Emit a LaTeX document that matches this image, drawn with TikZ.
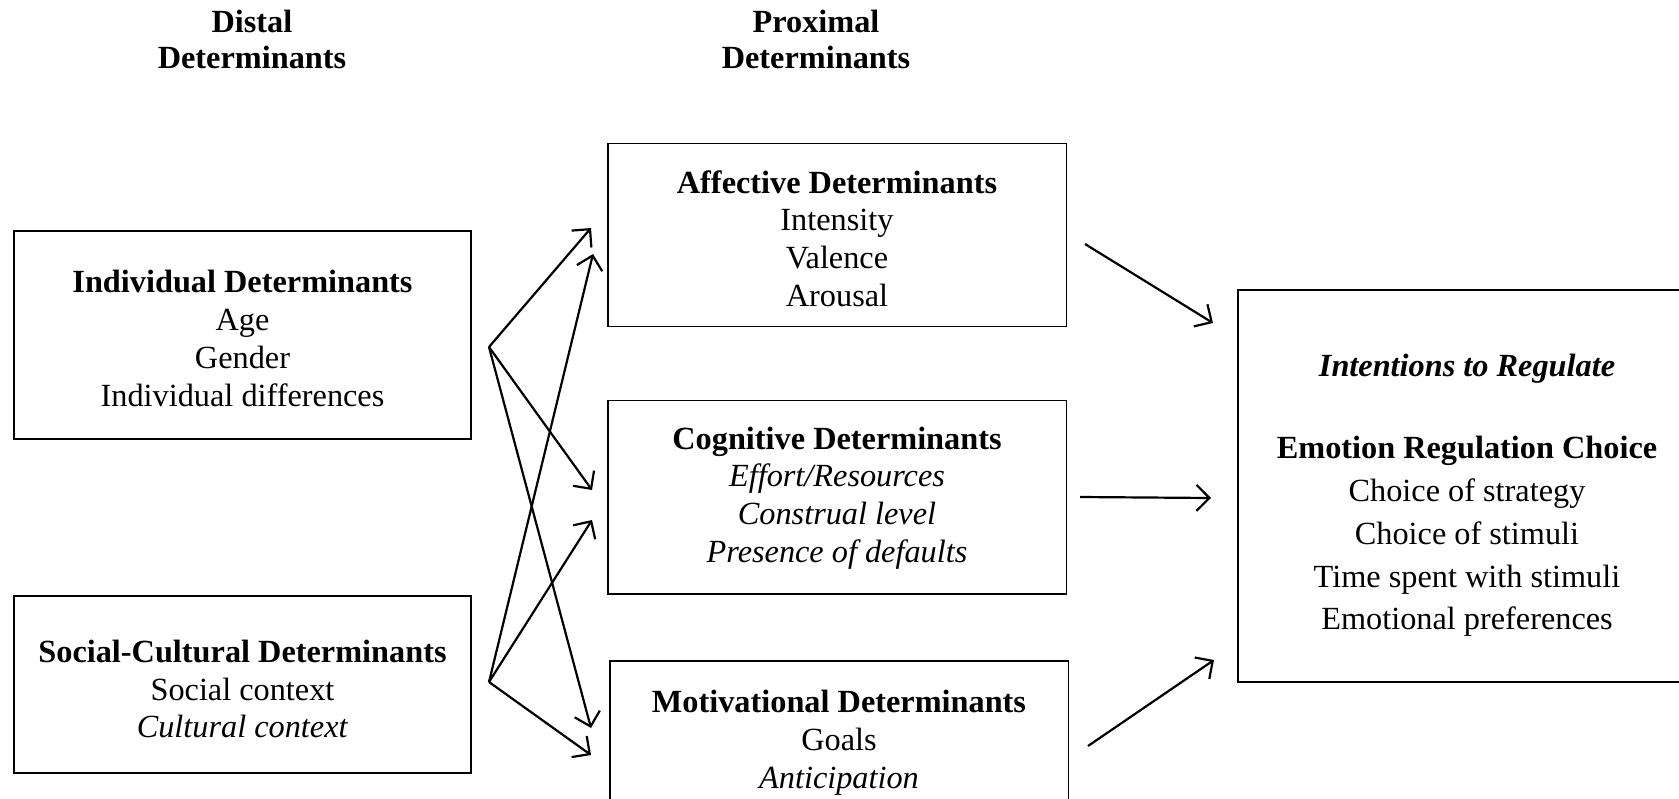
\documentclass[tikz,border=0pt]{standalone}
\usepackage{fontspec}
\setmainfont{Liberation Serif}
\usetikzlibrary{arrows.meta}
\begin{document}
\begin{tikzpicture}[x=1pt,y=-1pt,
  box/.style={draw, line width=1.5pt, inner sep=0pt},
  txt/.style={align=center, inner sep=0pt, font=\fontsize{32.3}{37.8}\selectfont},
  bigtxt/.style={txt, font=\fontsize{32.3}{42.8}\selectfont},
  head/.style={align=center, inner sep=0pt, font=\fontsize{32.3}{36}\selectfont\bfseries},
  conn/.style={line width=2.2pt, -{Straight Barb[length=13pt,width=26pt,line width=2.2pt]}}]
\useasboundingbox (0,0) rectangle (1679,798);

% headers
\node[head] (hdist) at (252,39) {Distal\\Determinants};
\node[head] (hprox) at (816,39) {Proximal\\Determinants};

% distal boxes
\node[box, minimum width=457pt, minimum height=208pt] (ind) at (242.5,335) {};
\node[txt] (indT) at (242.5,338.5)
  {\textbf{Individual Determinants}\\Age\\Gender\\Individual differences};
\node[box, minimum width=457pt, minimum height=177pt] (soc) at (242.5,684.5) {};
\node[txt] (socT) at (242.5,689)
  {\textbf{Social-Cultural Determinants}\\Social context\\\textit{Cultural context}};

% proximal boxes
\node[box, minimum width=458.5pt, minimum height=183pt] (aff) at (837,235) {};
\node[txt] (affT) at (837,238.5)
  {\textbf{Affective Determinants}\\Intensity\\Valence\\Arousal};
\node[box, minimum width=458.5pt, minimum height=193.5pt] (cog) at (837,497) {};
\node[txt] (cogT) at (837,498)
  {\textbf{Cognitive Determinants}\\\textit{Effort/Resources}\\\textit{Construal level}\\\textit{Presence of defaults}};
\node[box, minimum width=458.5pt, minimum height=156pt] (mot) at (839,739) {};
\node[txt] (motT) at (839,743)
  {\textbf{Motivational Determinants}\\Goals\\\textit{Anticipation}};

% outcome box
\node[box, minimum width=458pt, minimum height=392pt] (erc) at (1467,486) {};
\node[bigtxt] (ercT) at (1467,495.6)
  {\textbf{\textit{Intentions to Regulate}}\\[39pt]\textbf{Emotion Regulation Choice}\\Choice of strategy\\Choice of stimuli\\Time spent with stimuli\\Emotional preferences};

% connector end points
\coordinate (iS) at (489,347);
\coordinate (sS) at (489,682);
\coordinate (a1) at (591,228);
\coordinate (a2) at (593,254);
\coordinate (c1) at (592,490);
\coordinate (c2) at (592,520);
\coordinate (m1) at (591,728);
\coordinate (m2) at (591,755);
\coordinate (affO) at (1085,244);
\coordinate (cogO) at (1080,497);
\coordinate (motO) at (1088,746);
\coordinate (r1) at (1213,323);
\coordinate (r2) at (1211,498);
\coordinate (r3) at (1214,660);

\draw[conn] (iS) -- (a1);
\draw[conn] (iS) -- (c1);
\draw[conn] (iS) -- (m1);
\draw[conn] (sS) -- (a2);
\draw[conn] (sS) -- (c2);
\draw[conn] (sS) -- (m2);
\draw[conn] (affO) -- (r1);
\draw[conn] (cogO) -- (r2);
\draw[conn] (motO) -- (r3);
\end{tikzpicture}
\end{document}
